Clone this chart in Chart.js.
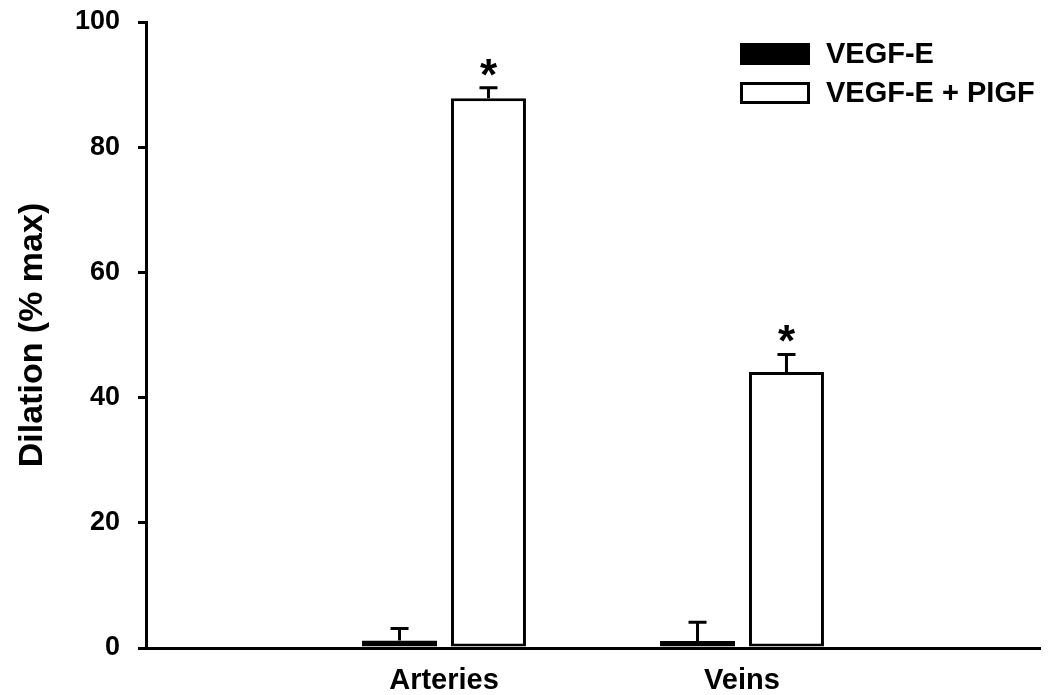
<!DOCTYPE html>
<html>
<head>
<meta charset="utf-8">
<title>Dilation</title>
<script src="https://cdn.jsdelivr.net/npm/chart.js@4.4.1/dist/chart.umd.min.js"></script>
<style>
  body { margin: 0; background: #fff; }
  #wrap { width: 1050px; height: 695px; }
</style>
</head>
<body>
<div id="wrap"><canvas id="myChart"></canvas></div>
<script>
// data (blank labels at the ends pad the axis)
const categories = ['', 'Arteries', 'Veins', ''];
const vegfE = [null, 1.2, 1.1, null];
const vegfEErr = [null, 1.9, 3.0, null];
const vegfPlgf = [null, 87.8, 44.1, null];
const vegfPlgfErr = [null, 1.7, 2.8, null];
const vegfPlgfMarks = ['', '*', '*', ''];
const yTicks = [0, 20, 40, 60, 80, 100];

const FONT = '"Liberation Sans", Arial, sans-serif';

// error bars (upward only) and asterisks
const errorBars = {
  id: 'errorBars',
  afterDatasetsDraw(chart) {
    const ctx = chart.ctx;
    const y = chart.scales.y;
    ctx.save();
    ctx.strokeStyle = '#000';
    ctx.lineWidth = 3;
    chart.data.datasets.forEach((ds, di) => {
      const meta = chart.getDatasetMeta(di);
      meta.data.forEach((bar, i) => {
        if (ds.data[i] == null) return;
        const top = y.getPixelForValue(ds.data[i] + ds.errors[i]);
        ctx.beginPath();
        ctx.moveTo(bar.x, bar.y);
        ctx.lineTo(bar.x, top);
        ctx.moveTo(bar.x - 9, top);
        ctx.lineTo(bar.x + 9, top);
        ctx.stroke();
        if (ds.marks && ds.marks[i]) {
          ctx.fillStyle = '#000';
          ctx.font = 'bold 44px ' + FONT;
          ctx.textAlign = 'center';
          ctx.textBaseline = 'alphabetic';
          ctx.fillText(ds.marks[i], bar.x, top + 2);
        }
      });
    });
    ctx.restore();
  }
};

// legend box drawn by hand in the top right
const boxLegend = {
  id: 'boxLegend',
  afterDraw(chart) {
    const ctx = chart.ctx;
    ctx.save();
    ctx.font = 'bold 29px ' + FONT;
    ctx.textBaseline = 'middle';
    ctx.textAlign = 'left';
    ctx.lineWidth = 3;
    ctx.strokeStyle = '#000';
    chart.data.datasets.forEach((ds, i) => {
      const cy = 54 + i * 39;
      ctx.fillStyle = ds.backgroundColor;
      ctx.fillRect(741.5, cy - 9.5, 67, 19);
      ctx.strokeRect(741.5, cy - 9.5, 67, 19);
      ctx.fillStyle = '#000';
      ctx.fillText(ds.label, 826, cy + 1);
    });
    ctx.restore();
  }
};

const ctx = document.getElementById('myChart').getContext('2d');
new Chart(ctx, {
  type: 'bar',
  data: {
    labels: categories,
    datasets: [
      {
        label: 'VEGF-E',
        data: vegfE,
        errors: vegfEErr,
        backgroundColor: '#000',
        borderColor: '#000',
        borderWidth: 3,
        borderSkipped: false
      },
      {
        label: 'VEGF-E + PIGF',
        data: vegfPlgf,
        errors: vegfPlgfErr,
        marks: vegfPlgfMarks,
        backgroundColor: '#fff',
        borderColor: '#000',
        borderWidth: 3,
        borderSkipped: false
      }
    ]
  },
  options: {
    responsive: true,
    maintainAspectRatio: false,
    animation: false,
    categoryPercentage: 0.597,
    barPercentage: 0.843,
    layout: { padding: { top: 22, right: 10, left: 0, bottom: 0 } },
    plugins: {
      legend: { display: false },
      tooltip: { enabled: false }
    },
    scales: {
      x: {
        offset: false,
        grid: { drawOnChartArea: false, drawTicks: false },
        border: { display: true, color: '#000', width: 3 },
        ticks: {
          color: '#000',
          padding: 16,
          maxRotation: 0,
          autoSkip: false,
          font: { family: FONT, size: 29, weight: 'bold' }
        },
        afterFit(s) {
          s.height = 47;
          s.paddingLeft = 0;
          s.paddingRight = 0;
        }
      },
      y: {
        min: 0,
        max: 100,
        afterBuildTicks(s) { s.ticks = yTicks.map(v => ({ value: v })); },
        grid: { drawOnChartArea: false, drawTicks: true, tickLength: 8, color: '#000', lineWidth: 3 },
        border: { display: true, color: '#000', width: 3 },
        ticks: {
          color: '#000',
          padding: 18,
          font: { family: FONT, size: 27, weight: 'bold' }
        },
        title: {
          display: true,
          text: 'Dilation (% max)',
          color: '#000',
          padding: { top: 12, bottom: 0 },
          font: { family: FONT, size: 34, weight: 'bold' }
        },
        afterFit(s) {
          s.width = 146;
          s.paddingTop = 0;
          s.paddingBottom = 0;
        }
      }
    }
  },
  plugins: [errorBars, boxLegend]
});
</script>
</body>
</html>
